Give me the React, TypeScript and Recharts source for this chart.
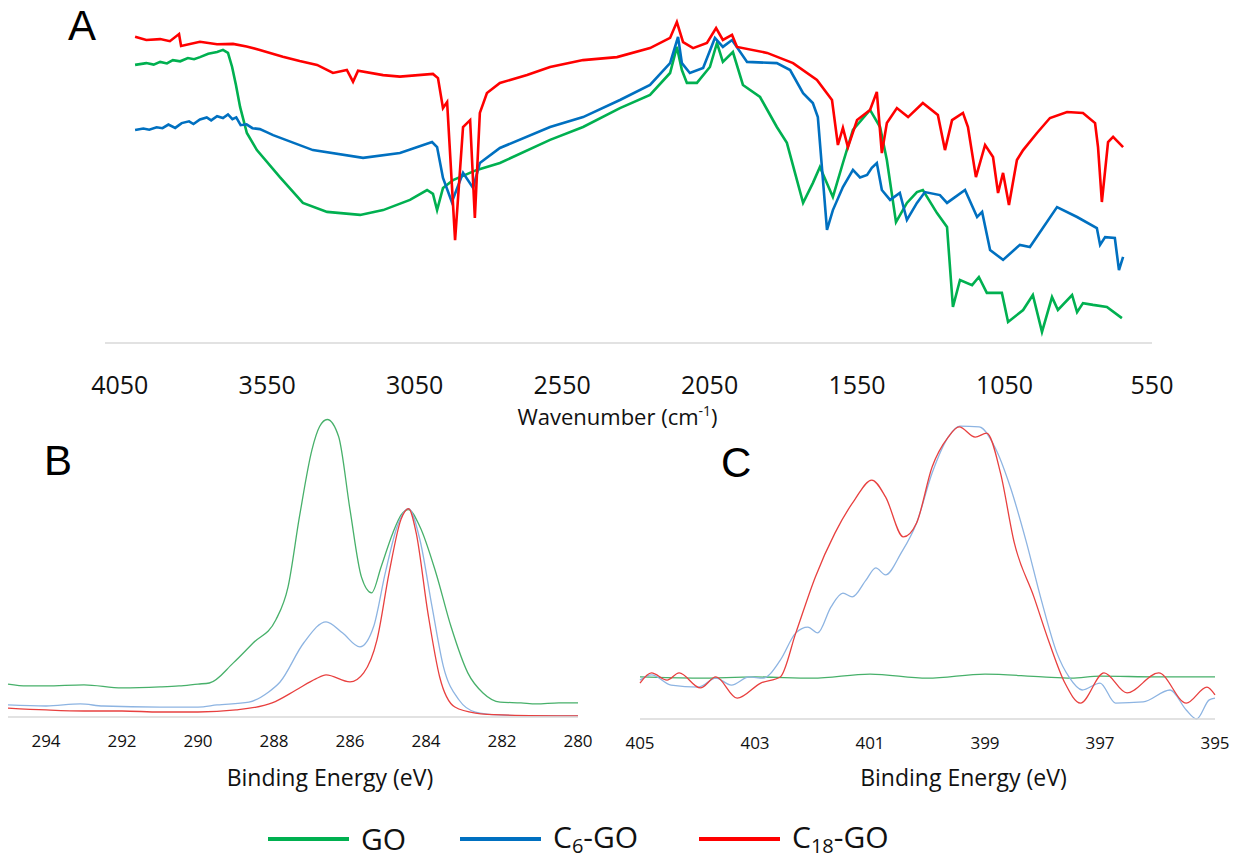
import React from 'react';
import { LineChart, Line, XAxis, YAxis } from 'recharts';

const FONT = '"Open Sans", "Noto Sans", sans-serif';
const LETTER_FONT = '"Liberation Sans", Arial, sans-serif';

// Panel A, FTIR: [wavenumber (cm-1), transmittance (a.u.)]
const ftirGO: [number, number][] = [
  [3998, 92.7], [3960, 93.3], [3935, 92.8], [3913, 93.7], [3890, 93.2], [3870, 94.3], [3845, 93.9],
  [3819, 95.0], [3798, 94.6], [3778, 95.3], [3750, 96.4], [3720, 97.0], [3700, 97.7], [3683, 96.7],
  [3669, 92.0], [3656, 86.0], [3642, 78.7], [3619, 70.0], [3585, 64.3], [3507, 55.3], [3429, 46.7],
  [3347, 43.7], [3235, 42.7], [3157, 44.3], [3066, 47.7], [3008, 51.0], [2988, 49.7], [2974, 44.3],
  [2954, 51.7], [2920, 54.3], [2839, 57.7], [2761, 60.0], [2591, 67.7], [2479, 72.0], [2354, 78.3],
  [2252, 82.7], [2184, 90.0], [2161, 98.7], [2144, 91.0], [2127, 86.7], [2093, 86.7], [2049, 92.0],
  [2025, 100.0], [2005, 93.7], [1971, 97.0], [1937, 86.0], [1879, 82.0], [1822, 72.0], [1788, 66.7],
  [1733, 46.7], [1700, 53.3], [1676, 58.7], [1632, 48.7], [1598, 60.0], [1564, 71.0], [1506, 77.7],
  [1472, 72.0], [1449, 61.0], [1418, 40.3], [1381, 46.7], [1347, 50.3], [1327, 51.0], [1279, 43.3],
  [1245, 38.7], [1225, 12.0], [1201, 21.0], [1160, 19.3], [1137, 22.0], [1110, 16.7], [1059, 16.7],
  [1038, 7.0], [987, 11.0], [954, 16.0], [923, 3.7], [889, 15.3], [869, 11.0], [821, 16.0],
  [804, 10.3], [784, 13.3], [750, 12.7], [703, 12.0], [652, 8.3],
];

const ftirC6: [number, number][] = [
  [3998, 71.0], [3970, 71.5], [3950, 71.1], [3925, 71.9], [3905, 71.6], [3885, 72.8], [3862, 71.7],
  [3840, 73.3], [3815, 73.9], [3800, 73.0], [3778, 74.5], [3755, 75.2], [3740, 74.2], [3720, 75.6],
  [3700, 75.0], [3683, 76.2], [3668, 74.6], [3655, 75.2], [3640, 72.6], [3620, 72.9], [3600, 71.6],
  [3575, 71.3], [3550, 70.2], [3530, 69.3], [3395, 64.3], [3225, 61.7], [3100, 63.3], [2991, 67.0],
  [2974, 65.3], [2954, 55.0], [2924, 47.0], [2886, 56.7], [2852, 51.7], [2829, 60.0], [2761, 65.0],
  [2591, 72.0], [2479, 75.3], [2354, 81.0], [2252, 86.0], [2184, 93.3], [2157, 102.0], [2144, 93.3],
  [2117, 90.0], [2072, 91.7], [2032, 101.7], [2005, 98.7], [1974, 101.0], [1923, 93.7], [1822, 93.3],
  [1777, 91.0], [1733, 83.3], [1700, 80.0], [1683, 75.3], [1652, 37.7], [1632, 44.3], [1598, 52.0],
  [1564, 57.7], [1540, 55.2], [1516, 56.0], [1500, 58.4], [1483, 60.0], [1466, 51.0], [1438, 47.7],
  [1405, 50.0], [1381, 41.0], [1347, 46.7], [1320, 50.3], [1269, 49.3], [1245, 46.7], [1184, 51.0],
  [1143, 42.0], [1126, 43.7], [1099, 31.0], [1055, 27.7], [998, 32.7], [964, 32.0], [872, 45.3],
  [804, 42.0], [737, 38.3], [726, 32.7], [709, 35.3], [676, 35.0], [662, 24.3], [648, 28.7],
];

const ftirC18: [number, number][] = [
  [3998, 102.1], [3960, 101.0], [3913, 101.3], [3880, 100.6], [3849, 103.0], [3842, 99.0], [3778, 100.4],
  [3720, 99.6], [3666, 99.7], [3620, 98.8], [3575, 97.7], [3497, 95.4], [3440, 94.0], [3381, 92.7],
  [3327, 90.0], [3280, 91.0], [3259, 87.1], [3242, 90.8], [3157, 89.3], [3100, 88.8], [2988, 89.7],
  [2971, 88.3], [2954, 78.3], [2940, 80.3], [2913, 34.3], [2886, 72.0], [2862, 74.3], [2846, 41.7],
  [2829, 76.7], [2805, 83.3], [2761, 86.7], [2669, 89.3], [2591, 92.0], [2479, 94.3], [2364, 95.3],
  [2252, 98.3], [2184, 101.7], [2161, 107.0], [2140, 100.3], [2106, 98.3], [2059, 100.0], [2028, 105.0],
  [2005, 101.0], [1974, 102.7], [1957, 98.7], [1855, 96.7], [1767, 93.3], [1686, 87.7], [1635, 81.0],
  [1615, 66.0], [1598, 71.7], [1581, 65.3], [1550, 74.3], [1506, 77.7], [1483, 83.7], [1466, 63.3],
  [1449, 73.3], [1415, 78.3], [1377, 75.3], [1327, 80.0], [1276, 76.0], [1252, 64.3], [1228, 74.3],
  [1191, 76.7], [1174, 72.0], [1147, 55.3], [1116, 66.0], [1089, 62.0], [1072, 50.0], [1055, 56.7],
  [1035, 46.0], [1008, 61.0], [987, 64.3], [940, 70.0], [896, 75.0], [838, 77.0], [784, 76.7],
  [743, 73.3], [733, 65.3], [720, 47.0], [699, 67.0], [682, 68.7], [648, 65.3],
];

const ftirTicks = [4050, 3550, 3050, 2550, 2050, 1550, 1050, 550];

// Panel B, XPS C1s: [binding energy (eV), normalised counts]
const c1sGO: [number, number][] = [
  [295, 0.159], [294.5, 0.15], [294, 0.15], [293, 0.155], [292, 0.14], [291, 0.145], [290.5, 0.15],
  [290, 0.159], [289.7, 0.164], [289.07, 0.261], [288.55, 0.357], [287.95, 0.469], [287.63, 0.628],
  [287.33, 0.966], [287.0, 1.29], [286.8, 1.401], [286.6, 1.435], [286.3, 1.353], [286.0, 1.0],
  [285.7, 0.676], [285.43, 0.599], [285.18, 0.725], [284.87, 0.889], [284.65, 0.976], [284.46, 1.0],
  [284.16, 0.918], [283.74, 0.696], [283.34, 0.435], [282.9, 0.213], [282.5, 0.116], [282.05, 0.072],
  [281.5, 0.068], [281.1, 0.063], [280.5, 0.068], [280, 0.068],
];

const c1sC6: [number, number][] = [
  [295, 0.058], [294, 0.053], [293.1, 0.063], [292.5, 0.053], [291, 0.048], [290, 0.048], [289.5, 0.058],
  [288.66, 0.072], [288.14, 0.121], [287.84, 0.169], [287.22, 0.357], [286.63, 0.459], [286.2, 0.406],
  [285.74, 0.338], [285.38, 0.435], [285.07, 0.696], [284.76, 0.918], [284.46, 1.005], [284.16, 0.855],
  [283.84, 0.531], [283.54, 0.242], [283.13, 0.082], [282.7, 0.024], [282.1, 0.01], [281, 0.005],
  [280, 0.005],
];

const c1sC18: [number, number][] = [
  [295, 0.043], [294, 0.034], [293, 0.029], [292, 0.029], [291, 0.024], [290, 0.024], [289, 0.034],
  [288.05, 0.068], [287.42, 0.13], [286.9, 0.184], [286.63, 0.203], [286.0, 0.169], [285.64, 0.213],
  [285.29, 0.372], [284.97, 0.696], [284.66, 0.952], [284.46, 1.005], [284.26, 0.889], [283.95, 0.502],
  [283.64, 0.193], [283.24, 0.048], [282.7, 0.019], [282, 0.01], [280, 0.005],
];

const c1sTicks = [294, 292, 290, 288, 286, 284, 282, 280];

// Panel C, XPS N1s: [binding energy (eV), normalised counts]
const n1sGO: [number, number][] = [
  [405, 0.145], [404, 0.141], [403, 0.145], [402, 0.141], [401, 0.155], [400, 0.141], [399, 0.155],
  [398, 0.145], [397.5, 0.141], [397, 0.148], [396, 0.145], [395, 0.145],
];

const n1sC6: [number, number][] = [
  [405, 0.134], [404.8, 0.152], [404.46, 0.117], [403.98, 0.11], [403.68, 0.141], [403.41, 0.117],
  [403.1, 0.145], [402.86, 0.141], [402.56, 0.203], [402.29, 0.297], [402.08, 0.317], [401.91, 0.297],
  [401.68, 0.386], [401.47, 0.434], [401.31, 0.421], [401.07, 0.479], [400.9, 0.521], [400.73, 0.497],
  [400.46, 0.572], [400.19, 0.676], [399.92, 0.848], [399.64, 0.972], [399.44, 1.01], [399.1, 1.007],
  [398.83, 0.938], [398.56, 0.8], [398.29, 0.617], [398.02, 0.41], [397.75, 0.228], [397.54, 0.145],
  [397.31, 0.1], [397.0, 0.124], [396.73, 0.055], [396.25, 0.059], [395.78, 0.1], [395.5, 0.031],
  [395.32, 0], [395.1, 0.066], [395, 0.072],
];

const n1sC18: [number, number][] = [
  [405, 0.124], [404.8, 0.159], [404.53, 0.134], [404.32, 0.159], [403.95, 0.107], [403.68, 0.145],
  [403.31, 0.072], [402.9, 0.124], [402.56, 0.145], [402.29, 0.297], [401.95, 0.49], [401.61, 0.641],
  [401.27, 0.755], [400.97, 0.824], [400.73, 0.766], [400.42, 0.628], [400.19, 0.676], [399.92, 0.869],
  [399.64, 0.972], [399.45, 1.007], [399.17, 0.972], [398.97, 0.986], [398.73, 0.848], [398.49, 0.607],
  [398.15, 0.421], [397.88, 0.262], [397.61, 0.124], [397.34, 0.055], [396.93, 0.159], [396.53, 0.09],
  [395.98, 0.159], [395.5, 0.055], [395.14, 0.11], [395, 0.083],
];

const n1sTicks = [405, 403, 401, 399, 397, 395];

const pts = (arr: [number, number][]) => arr.map(([x, y]) => ({ x, y }));

const axisTitle = (content: React.ReactNode, shiftX: number, drop: number, size: number) =>
  (props: any) => {
    const vb = props.viewBox ?? { x: 0, y: 0, width: 0, height: 0 };
    return (
      <text
        x={vb.x + vb.width / 2 + shiftX}
        y={vb.y + drop}
        textAnchor="middle"
        fontSize={size}
        fontFamily={FONT}
        fill="#111"
      >
        {content}
      </text>
    );
  };

const axisLine = { stroke: '#d9d9d9', strokeWidth: 1.5 };

const letterStyle = (left: number, top: number): React.CSSProperties => ({
  position: 'absolute', left, top, fontSize: 42, lineHeight: '42px', color: '#000',
  whiteSpace: 'nowrap', fontFamily: LETTER_FONT,
});

const sub: React.CSSProperties = { fontSize: 20, position: 'relative', top: 5, verticalAlign: 'baseline' };

const legendItems = [
  { name: 'GO', color: '#00b050', left: 268 },
  { name: 'C6-GO', color: '#0070c0', left: 460 },
  { name: 'C18-GO', color: '#ff0000', left: 699 },
];

const legendLabel = (name: string) => {
  const m = name.match(/^C(\d+)(-GO)$/);
  if (!m) return name;
  return (
    <>
      C<span style={sub}>{m[1]}</span>{m[2]}
    </>
  );
};

const App: React.FC = () => {
  return (
    <div style={{ position: 'absolute', left: 0, top: 0, width: 1233, height: 859, background: '#fff', fontFamily: FONT }}>
      {/* A: FTIR */}
      <div style={{ position: 'absolute', left: 0, top: 0 }}>
        <LineChart width={1233} height={440} margin={{ top: 13, right: 81, left: 105, bottom: 0 }}>
          <XAxis
            type="number"
            dataKey="x"
            domain={[550, 4100]}
            reversed
            ticks={ftirTicks}
            interval={0}
            height={97}
            tickLine={false}
            tickMargin={27}
            axisLine={axisLine}
            tick={{ fontSize: 25, fill: '#111', fontFamily: FONT }}
            label={axisTitle(
              <>
                Wavenumber (cm<tspan dy={-9} fontSize={14}>-1</tspan>
                <tspan dy={9}>)</tspan>
              </>,
              -11, 82, 22,
            )}
          />
          <YAxis type="number" domain={[0, 110]} hide />
          <Line data={pts(ftirGO)} dataKey="y" stroke="#00b050" strokeWidth={2.6} dot={false} isAnimationActive={false} />
          <Line data={pts(ftirC6)} dataKey="y" stroke="#0070c0" strokeWidth={2.6} dot={false} isAnimationActive={false} />
          <Line data={pts(ftirC18)} dataKey="y" stroke="#ff0000" strokeWidth={2.6} dot={false} isAnimationActive={false} />
        </LineChart>
      </div>

      {/* B: C1s */}
      <div style={{ position: 'absolute', left: 0, top: 400 }}>
        <LineChart width={610} height={400} margin={{ top: 6, right: 32, left: 8, bottom: 0 }}>
          <XAxis
            type="number"
            dataKey="x"
            domain={[280, 295]}
            reversed
            ticks={c1sTicks}
            interval={0}
            height={83}
            tickLine={false}
            tickMargin={12}
            axisLine={axisLine}
            tick={{ fontSize: 17, fill: '#111', fontFamily: FONT }}
            label={axisTitle('Binding Energy (eV)', 37, 69, 23)}
          />
          <YAxis type="number" domain={[0, 1.5]} hide />
          <Line data={pts(c1sGO)} dataKey="y" type="monotone" stroke="#47b06a" strokeWidth={1.3} dot={false} isAnimationActive={false} />
          <Line data={pts(c1sC6)} dataKey="y" type="monotone" stroke="#8db4e2" strokeWidth={1.3} dot={false} isAnimationActive={false} />
          <Line data={pts(c1sC18)} dataKey="y" type="monotone" stroke="#e8403f" strokeWidth={1.3} dot={false} isAnimationActive={false} />
        </LineChart>
      </div>

      {/* C: N1s */}
      <div style={{ position: 'absolute', left: 600, top: 400 }}>
        <LineChart width={633} height={400} margin={{ top: 0, right: 18, left: 40, bottom: 0 }}>
          <XAxis
            type="number"
            dataKey="x"
            domain={[395, 405]}
            reversed
            ticks={n1sTicks}
            interval={0}
            height={81}
            tickLine={false}
            tickMargin={12}
            axisLine={axisLine}
            tick={{ fontSize: 17, fill: '#111', fontFamily: FONT }}
            label={axisTitle('Binding Energy (eV)', 36, 67, 23)}
          />
          <YAxis type="number" domain={[0, 1.1]} hide />
          <Line data={pts(n1sGO)} dataKey="y" type="monotone" stroke="#47b06a" strokeWidth={1.3} dot={false} isAnimationActive={false} />
          <Line data={pts(n1sC6)} dataKey="y" type="monotone" stroke="#8db4e2" strokeWidth={1.3} dot={false} isAnimationActive={false} />
          <Line data={pts(n1sC18)} dataKey="y" type="monotone" stroke="#e8403f" strokeWidth={1.3} dot={false} isAnimationActive={false} />
        </LineChart>
      </div>

      {/* panel letters */}
      <div style={letterStyle(68, 5)}>A</div>
      <div style={letterStyle(44, 440)}>B</div>
      <div style={letterStyle(721, 442)}>C</div>

      {/* shared legend */}
      {legendItems.map((it) => (
        <div key={it.name} style={{ position: 'absolute', left: it.left, top: 821, height: 36, display: 'flex', alignItems: 'center', whiteSpace: 'nowrap' }}>
          <div style={{ width: 81, height: 3.5, background: it.color, marginRight: 12 }} />
          <span style={{ fontSize: 30, lineHeight: '36px', color: '#111' }}>{legendLabel(it.name)}</span>
        </div>
      ))}
    </div>
  );
};

export default App;
